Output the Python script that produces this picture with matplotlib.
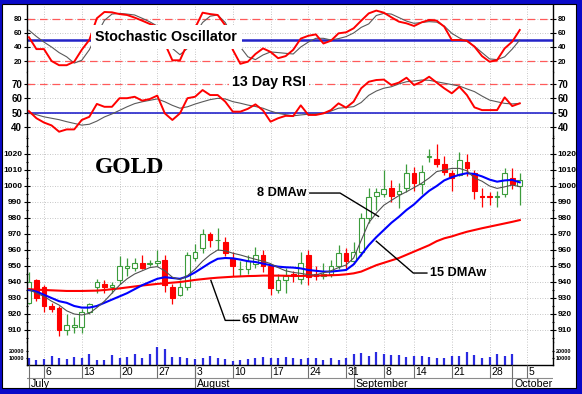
import numpy as np
import matplotlib
matplotlib.use("Agg")
import matplotlib.pyplot as plt
from matplotlib.patches import Rectangle
from matplotlib.ticker import MultipleLocator

plt.rcParams['font.family'] = ['Liberation Sans', 'DejaVu Sans']
plt.rcParams['font.weight'] = 'bold'

# daily gold prices, Jul 1 - Oct 2 (trading days)
opens = [927, 941, 937, 925, 924, 910, 912, 912, 921, 937, 939, 937, 941, 949, 949, 952,
         951, 952, 954, 937, 932, 937, 955, 961, 970, 966, 965, 955, 948, 948, 951, 957,
         950, 935, 941, 945, 942, 957, 945, 944, 945, 950, 958, 953, 959, 980, 994, 995,
         999, 995, 999, 1008, 1001, 1018, 1017, 1014, 1008, 1007, 1015, 1008, 994, 994,
         993, 995, 1005, 1000]
highs = [946, 942, 938, 927, 925, 920, 918, 923, 927, 942, 941, 940, 956, 955, 955, 957,
         954, 960, 957, 939, 941, 959, 964, 973, 971, 974, 968, 959, 953, 957, 962, 960,
         951, 945, 949, 947, 959, 960, 950, 952, 954, 963, 961, 965, 983, 999, 999, 1010,
         1004, 1002, 1014, 1012, 1013, 1023, 1026, 1019, 1010, 1021, 1020, 1010, 999, 996,
         997, 1011, 1011, 1008]
lows = [926, 928, 921, 921, 906, 907, 908, 908, 920, 933, 933, 933, 939, 944, 947, 948,
        950, 950, 934, 926, 931, 935, 953, 958, 962, 960, 956, 944, 944, 945, 949, 946,
        932, 933, 933, 940, 939, 938, 941, 942, 943, 948, 948, 951, 956, 977, 985, 993,
        990, 986, 996, 997, 995, 1015, 1012, 1007, 997, 1006, 1006, 992, 987, 988,
        987, 993, 998, 988]
closes = [940, 930, 925, 923, 910, 913, 913, 921, 926, 940, 937, 938, 950, 950, 952, 949,
          952, 953, 938, 930, 937, 957, 959, 970, 966, 966, 958, 950, 948, 953, 957, 950,
          936, 941, 944, 944, 952, 943, 944, 945, 950, 958, 953, 959, 980, 993, 996, 998,
          994, 997, 1008, 1002, 1009, 1019, 1014, 1009, 1005, 1016, 1011, 997, 993, 993,
          994, 1008, 1001, 1004]

dma8 = [935.4, 933, 931, 928, 925.6, 922, 920, 919.4, 920.4, 924, 928, 933, 938, 942, 945,
        947, 949, 949.6, 947, 943, 941.5, 944, 948, 953, 957, 960, 959.5, 958, 956.9, 955.5,
        954.2, 953, 951.5, 949, 947, 946, 945.4, 944.6, 944.4, 945.8, 947, 949, 950.6, 955,
        966, 977, 983, 988, 991, 994, 996.4, 999, 1001.7, 1005, 1009, 1010, 1011, 1011,
        1009.5, 1005, 1003, 1000, 998.5, 999.5, 1000.6, 999.6]
dma15 = [935, 934, 932, 930, 928, 927, 925, 924, 924, 925, 927, 929, 931, 933, 935.5, 938,
         940, 942, 943, 942.5, 942, 943.5, 946, 949, 952, 954.5, 955, 954.8, 954, 953, 952.5,
         951.5, 950.5, 949.6, 949.2, 949, 948.5, 947.5, 947, 946.5, 946.5, 947, 947.5, 951,
         957, 963, 968, 972.5, 977, 980.8, 985, 988.5, 993, 997, 1000, 1003.5, 1005.5, 1007,
         1008, 1007.5, 1006, 1004, 1002.7, 1003.5, 1003.8, 1002.3]
dma65 = [935.5, 935.2, 935, 934.8, 934.6, 934.4, 934.4, 934.4, 934.5, 934.6, 935, 935.5, 936,
         936.6, 937.2, 937.8, 938.3, 938.8, 939.2, 939.6, 940, 940.6, 941.3, 941.8, 942.3,
         942.7, 943, 943.3, 943.5, 943.7, 943.8, 944, 944, 944, 943.9, 943.8, 943.8, 943.9,
         944, 944.1, 944.2, 944.4, 944.8, 945.4, 946.5, 948.5, 950.5, 952, 953.5, 955, 957,
         959, 961, 963, 965.5, 967.3, 968.5, 970, 971.4, 972.5, 973.6, 974.6, 975.6, 976.6,
         977.6, 978.7]

stoch_k = [54, 37, 37, 20, 14, 14, 19, 36, 50, 81, 90, 89.5, 87, 85.7, 82, 77.6, 73, 69, 45,
           21, 21, 45, 67, 89, 87, 85.7, 71, 36, 16, 19, 30, 38, 33, 24, 27, 36, 52, 56, 58,
           45, 49, 59.5, 61, 66.7, 77.6, 88, 92, 89, 82.4, 76.2, 73.8, 70, 75.2, 78.6, 77.6,
           69, 50, 50, 49, 40.5, 27, 19, 21.4, 38, 47.6, 64.3]
stoch_d = [64, 55, 47, 40, 32, 26, 17, 21, 36, 58, 78, 87, 88, 87, 85.7, 81, 76, 70, 55, 38,
           29, 38, 58, 75, 84, 85.7, 75, 55, 40, 26, 22, 28.6, 33, 32, 31, 30, 40, 47, 52.4,
           52.4, 50, 52, 54.8, 60, 68, 73, 85, 88, 87, 82, 77, 73.8, 75, 76.2, 75.5, 70, 59.5,
           53, 48, 41, 32, 23, 22, 26, 37, 50]

rsi = [51, 46, 43, 41, 36.6, 38.2, 38.2, 44.8, 47, 56, 54, 54, 60, 60, 61, 58.3, 59.4, 61.8,
       49.4, 44.8, 49.4, 60, 61, 65.7, 62.2, 62.2, 57.6, 50.6, 50.6, 52.6, 55.7, 51.5, 43.6,
       46, 47.7, 47.5, 55, 48.3, 48.3, 49.4, 51.7, 56.4, 53.4, 57.6, 66.9, 71.5, 72.7, 73,
       69.2, 70.9, 74.3, 69.2, 71.5, 75, 70.9, 66.9, 63.4, 68, 62.2, 53.6, 51.7, 51.7, 51.7,
       60.6, 54.5, 56.4]
rsi_ma = [49.5, 48.5, 47, 46, 45, 43.6, 42.4, 41.2, 41.8, 44, 46.9, 49, 51.5, 54, 56.2, 57.5,
          58.5, 59.5, 57.5, 55, 53, 54, 55.9, 57.5, 59, 59.9, 59.5, 57.6, 56.5, 55.2, 54.2, 53,
          51, 49.4, 48.5, 47.7, 48.3, 48.8, 49, 49.4, 51, 53, 53.5, 54.1, 57, 62, 65, 67, 68,
          70, 71.5, 72, 72.7, 72.5, 71.5, 70.5, 69.5, 68.5, 66.5, 64.6, 61.5, 58.7, 57.5, 56.4,
          56, 56.4]

volume = [10500, 7100, 8100, 12900, 10500, 8600, 11900, 10500, 15200, 7100, 7100, 14300,
          10500, 11900, 15700, 10500, 15700, 26200, 22400, 11000, 11900, 10500, 8100, 9500,
          12900, 9500, 8600, 5700, 7100, 8600, 9500, 11000, 10500, 9500, 11000, 9500, 8100,
          9500, 9500, 7100, 9500, 7100, 10500, 15700, 16700, 13300, 18100, 15200, 14300,
          14300, 11000, 12900, 12900, 11900, 10500, 10500, 12900, 13300, 19000, 14300, 10500,
          11900, 15700, 12900, 15200]

mondays = [2, 7, 12, 17, 22, 27, 32, 37, 42, 47, 51, 56, 61, 66]
monday_labels = ['6', '13', '20', '27', '3', '10', '17', '24', '31', '8', '14', '21', '28', '5']
month_starts = [0, 22, 43, 64]
month_names = ['July', 'August', 'September', 'October']

days = np.arange(len(closes))

FW, FH = 582, 394
L, R = 27 / FW, 553 / FW
XLIM = (-0.25, 69.4)


def box(top, bottom):
    return [L, 1 - bottom / FH, R - L, (bottom - top) / FH]


def style(ax, ticks, size):
    ax.set_xlim(XLIM)
    ax.spines['top'].set_visible(False)
    ax.spines['bottom'].set_visible(False)
    ax.spines['left'].set_linewidth(1)
    ax.spines['right'].set_linewidth(1)
    ax.set_xticks(mondays)
    ax.tick_params(axis='x', length=0, labelbottom=False)
    ax.set_yticks(ticks)
    ax.tick_params(axis='y', which='both', left=True, right=True, labelleft=True,
                   labelright=True, direction='inout', labelsize=size, pad=1.5,
                   length=4, width=0.8)
    ax.grid(True, color='#b4b4b4', ls=(0, (1, 2)), lw=0.6)
    ax.set_axisbelow(True)


fig = plt.figure(figsize=(FW / 100, FH / 100), dpi=100)

# stochastic oscillator
ax_s = fig.add_axes(box(4, 72))
style(ax_s, [20, 40, 60, 80], 5.5)
ax_s.set_ylim(4.3, 101.4)
for lev in (20, 80):
    ax_s.axhline(lev, color='#ff5a5a', lw=0.9, dashes=(6, 4), zorder=1)
ax_s.axhline(50, color='#2323c8', lw=1.8, zorder=1)
ax_s.plot(days, stoch_d, color='#5a5a5a', lw=0.8, zorder=2)
ax_s.plot(days, stoch_k, color='#ff0000', lw=1.4, zorder=3)
ax_s.text(18.2, 54, 'Stochastic Oscillator', fontsize=10.3, ha='center', va='center',
          zorder=5, bbox=dict(fc='white', ec='none', pad=3.5))

# 13 day RSI
ax_r = fig.add_axes(box(72, 136))
style(ax_r, [40, 50, 60, 70], 7)
ax_r.set_ylim(33.6, 78.3)
ax_r.axhline(70, color='#ff5a5a', lw=0.9, dashes=(6, 4), zorder=1)
ax_r.axhline(50, color='#1515c8', lw=1.1, zorder=1)
ax_r.plot(days, rsi_ma, color='#5a5a5a', lw=0.8, zorder=2)
ax_r.plot(days, rsi, color='#ff0000', lw=1.4, zorder=3)
ax_r.text(31.8, 71, '13 Day RSI', fontsize=10.3, ha='center', va='center',
          zorder=5, bbox=dict(fc='white', ec='none', pad=2.5))

# price candles
ax_p = fig.add_axes(box(136, 342))
style(ax_p, np.arange(910, 1021, 10), 6)
ax_p.set_ylim(902.5, 1031.25)
ax_p.yaxis.set_minor_locator(MultipleLocator(5))
ax_p.tick_params(axis='y', which='minor', length=2, labelleft=False, labelright=False)
for i in days:
    up = closes[i] >= opens[i]
    col = '#3c9c3c' if up else '#ff0000'
    ax_p.vlines(i, lows[i], highs[i], color=col, lw=0.9, zorder=2)
    ax_p.bar(i, abs(closes[i] - opens[i]), bottom=min(opens[i], closes[i]), width=0.62,
             facecolor='white' if up else '#ff0000', edgecolor=col, lw=0.8, zorder=2)
ax_p.plot(days, dma65, color='#ff0000', lw=1.5, zorder=3)
ax_p.plot(days, dma15, color='#0000ff', lw=1.5, zorder=3)
ax_p.plot(days, dma8, color='#505050', lw=0.8, zorder=3)

ax_p.text(13.3, 1011.5, 'GOLD', family=['Liberation Serif', 'DejaVu Serif'],
          fontsize=17, fontweight='bold', ha='center', va='center')
ax_p.text(36.8, 995.6, '8 DMAw', fontsize=9.2, ha='right', va='center')
ax_p.plot([37.2, 41.2, 46.3], [995.6, 995.6, 981], color='black', lw=1, zorder=4)
ax_p.text(53.1, 945.6, '15 DMAw', fontsize=9.2, ha='left', va='center')
ax_p.plot([52.7, 50.9, 46.0], [945.6, 945.6, 965.5], color='black', lw=1, zorder=4)
ax_p.text(28.2, 916, '65 DMAw', fontsize=9.2, ha='left', va='center')
ax_p.plot([27.9, 26.0, 24.1], [916, 916, 941], color='black', lw=1, zorder=4)

# volume
ax_v = fig.add_axes(box(342, 365))
style(ax_v, [10000, 20000], 4)
ax_v.spines['bottom'].set_visible(True)
ax_v.spines['bottom'].set_linewidth(1)
ax_v.tick_params(axis='y', length=2, pad=1)
ax_v.set_ylim(0, 32857)
ax_v.grid(False, axis='y')
ax_v.vlines(days[:len(volume)], 0, volume, color='#2a2ae0', lw=1.6)

# date rows
ax_d = fig.add_axes(box(365, 389))
ax_d.set_xlim(XLIM)
ax_d.set_ylim(24, 0)
ax_d.axis('off')
ax_d.axhline(13, color='#8c8c8c', lw=0.8)
ax_d.vlines(mondays, 0, 13, color='#707070', lw=0.8)
ax_d.vlines(month_starts, 0, 24, color='#707070', lw=0.8)
for m, lab in zip(mondays, monday_labels):
    ax_d.text(m + 0.2, 6.8, lab, fontsize=7.5, fontweight='normal', ha='left', va='center')
for m, lab in zip(month_starts, month_names):
    ax_d.text(m + 0.25, 18.8, lab, fontsize=7.7, fontweight='normal', ha='left', va='center')

# blue frame
frame = '#0a0ac8'
for rect in [(0, 1 - 4 / FH, 1, 4 / FH), (0, 0, 1, 6 / FH), (0, 0, 2 / FW, 1),
             (576 / FW, 0, 6 / FW, 1)]:
    fig.patches.append(Rectangle(rect[:2], rect[2], rect[3], transform=fig.transFigure,
                                 facecolor=frame, edgecolor='none'))
fig.patches.append(Rectangle((2 / FW, 6 / FH), 574 / FW, 384 / FH, transform=fig.transFigure,
                             fill=False, edgecolor='black', lw=0.8))

fig.savefig('out.png', dpi=100)
